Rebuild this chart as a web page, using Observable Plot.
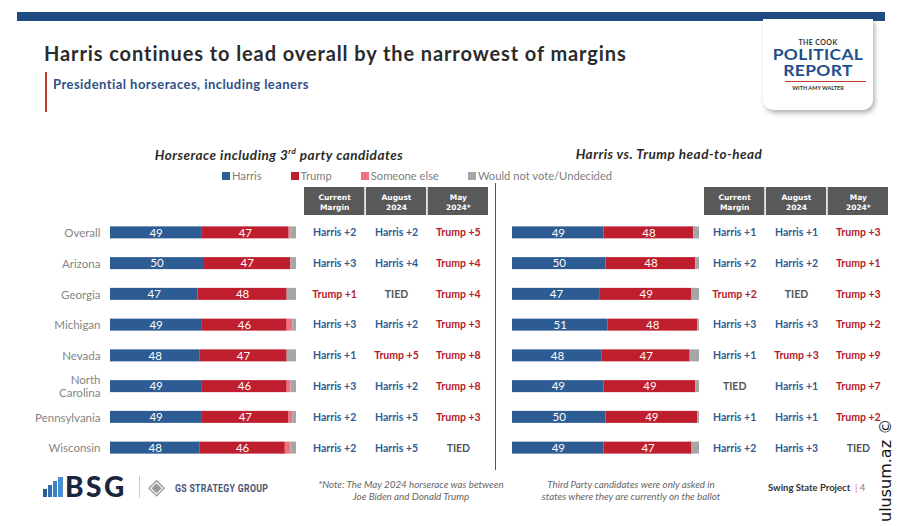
<!DOCTYPE html>
<html><head><meta charset="utf-8">
<script src="https://cdn.jsdelivr.net/npm/d3@7"></script>
<script src="https://cdn.jsdelivr.net/npm/@observablehq/plot@0.6"></script>
<style>
body{margin:0;background:#fff;font-family:Lato, sans-serif;}
#page{position:relative;width:900px;height:526px;overflow:hidden;background:#fff;}
.abs{position:absolute;}
.abs svg{display:block;overflow:visible;}
#legend .lg-swatch{margin-right:29px !important;}
#legend .lg-swatch svg{margin-right:2px !important;}
.logo div{position:absolute;left:0;width:110px;text-align:center;white-space:nowrap;}
.logo .big{font:bold 14.5px Lato;line-height:14.5px;color:#1f4e8c;letter-spacing:0.3px;transform:scaleX(1.2);transform-origin:55px 0;}
</style></head><body><div id="page">
<div class="abs" style="left:17px;top:12px;width:868px;height:9px;background:#1f4b82"></div>
<div class="abs" style="left:44px;top:41px;font:bold 20px Lato;color:#2b2b2b;white-space:nowrap;letter-spacing:0.9px" id="title">Harris continues to lead overall by the narrowest of margins</div>
<div class="abs" style="left:45px;top:72px;width:2px;height:40px;background:#c0392b"></div>
<div class="abs" style="left:53px;top:76px;font:bold 13px Lato;color:#2e4f87;white-space:nowrap;letter-spacing:0.45px">Presidential horseraces, including leaners</div>

<div class="abs logo" style="left:763px;top:19px;width:110px;height:91px;background:#fff;border-radius:0 0 10px 10px;box-shadow:2px 3px 5px rgba(0,0,0,0.3)">
  <div style="top:19.5px;font:bold 7px Lato;line-height:7px;color:#333;letter-spacing:0.4px">THE COOK</div>
  <div class="big" style="top:28.5px">POLITICAL</div>
  <div class="big" style="top:44.5px">REPORT</div>
  <div style="left:22px;width:81px;top:62px;height:1px;background:#c0392b"></div>
  <div style="top:67px;font:bold 5.5px Lato;line-height:5.5px;color:#333">WITH AMY WALTER</div>
</div>

<div class="abs" style="left:129px;top:146px;width:300px;text-align:center;font:italic bold 13.5px Lato;color:#2b2b2b;white-space:nowrap;letter-spacing:0.5px">Horserace including 3<sup style="font-size:8px">rd</sup> party candidates</div>
<div class="abs" style="left:519px;top:146px;width:300px;text-align:center;font:italic bold 13.5px Lato;color:#2b2b2b;white-space:nowrap;letter-spacing:0.5px">Harris vs. Trump head-to-head</div>
<div class="abs" id="legend" style="left:222px;top:159px;width:500px"></div>
<div class="abs" style="left:495px;top:183px;width:1px;height:287px;background:#555"></div>

<div class="abs" id="bars3" style="left:0px;top:211px"></div>
<div class="abs" id="head3" style="left:300px;top:187px"></div>
<div class="abs" id="table3" style="left:300px;top:211px"></div>
<div class="abs" id="bars2" style="left:500px;top:211px"></div>
<div class="abs" id="head2" style="left:700px;top:187px"></div>
<div class="abs" id="table2" style="left:700px;top:211px"></div>

<div class="abs" style="left:43px;top:477px;">
  <svg width="20" height="20" style="display:inline-block;vertical-align:top"><rect x="0" y="12" width="4" height="8" fill="#2a5c9a"/><rect x="5" y="8" width="4" height="12" fill="#2f6fb0"/><rect x="10" y="4" width="4" height="16" fill="#3a80c4"/><rect x="15" y="0" width="5" height="20" fill="#4a90d0"/></svg>
</div>
<div class="abs" style="left:65px;top:469px;font:900 28px Lato;color:#1a2540;letter-spacing:2.5px">BSG</div>
<div class="abs" style="left:139px;top:476px;width:1px;height:22px;background:#ccc"></div>
<div class="abs" style="left:148px;top:474px;font:22px 'DejaVu Sans';color:#999">◈</div>
<div class="abs" style="left:175px;top:481px;font:bold 11.5px Roboto;color:#4a5578;letter-spacing:0.4px;white-space:nowrap;transform-origin:0 0;transform:scaleX(0.76)">GS STRATEGY GROUP</div>
<div class="abs" style="left:291px;top:478px;width:240px;text-align:center;font:italic 9.8px Lato;color:#666;line-height:12px;white-space:nowrap">*Note: The May 2024 horserace was between<br>Joe Biden and Donald Trump</div>
<div class="abs" style="left:511px;top:478px;width:240px;text-align:center;font:italic 9.8px Lato;color:#666;line-height:12px;white-space:nowrap">Third Party candidates were only asked in<br>states where they are currently on the ballot</div>
<div class="abs" style="left:768px;top:482px;font:bold 9.5px Lato;color:#333;white-space:nowrap">Swing State Project <span style="color:#e07080;font-weight:normal">&nbsp;|&nbsp;</span><span style="color:#777;font-weight:normal">4</span></div>
<div class="abs" style="left:876px;top:522px;transform-origin:0 0;transform:rotate(-90deg);font:16px 'DejaVu Sans';color:#111;white-space:nowrap">ulusum.az ©</div>
</div>
<script>
const states = ["Overall","Arizona","Georgia","Michigan","Nevada","North Carolina","Pennsylvania","Wisconsin"];
const parties = ["Harris","Trump","Someone else","Would not vote/Undecided"];
const partyColors = ["#2d5b93","#be1e2d","#f07282","#a6a6a6"];
const columns = ["Current Margin","August 2024","May 2024*"];
const columnHeads = ["Current\nMargin","August\n2024","May\n2024*"];

// Horserace including 3rd party candidates
const h3Harris    = [49,50,47,49,48,49,49,48];
const h3Trump     = [47,47,48,46,47,46,47,46];
const h3Else      = [1,0,0,3,0,2,2,3];
const h3Undecided = [3,3,5,2,5,3,2,3];
const h3Current = ["Harris +2","Harris +3","Trump +1","Harris +3","Harris +1","Harris +3","Harris +2","Harris +2"];
const h3August  = ["Harris +2","Harris +4","TIED","Harris +2","Trump +5","Harris +2","Harris +5","Harris +5"];
const h3May     = ["Trump +5","Trump +4","Trump +4","Trump +3","Trump +8","Trump +8","Trump +3","TIED"];

// Harris vs. Trump head-to-head
const h2Harris    = [49,50,47,51,48,49,50,49];
const h2Trump     = [48,48,49,48,47,49,49,47];
const h2Undecided = [3,2,4,1,5,2,1,4];
const h2Current = ["Harris +1","Harris +2","Trump +2","Harris +3","Harris +1","TIED","Harris +1","Harris +2"];
const h2August  = ["Harris +1","Harris +2","TIED","Harris +3","Trump +3","Harris +1","Harris +1","Harris +3"];
const h2May     = ["Trump +3","Trump +1","Trump +3","Trump +2","Trump +9","Trump +7","Trump +2","TIED"];

function longBars(series) {
  const out = [];
  states.forEach((s, i) => series.forEach(([p, arr]) => out.push({state: s, party: p, value: arr[i]})));
  return out;
}
function longTable(cols) {
  const out = [];
  states.forEach((s, i) => cols.forEach((arr, j) => out.push({state: s, col: columns[j], label: arr[i]})));
  return out;
}
const labelColor = l => l.startsWith("Harris") ? "#2f5c94" : l.startsWith("Trump") ? "#b5202b" : "#555555";

const yScale = {type: "band", domain: states, paddingInner: 0.61, paddingOuter: 0.5, round: false};
const H = 258;

function barPlot(data, opts) {
  return Plot.plot({
    width: opts.width, height: H, marginLeft: opts.ml, marginRight: opts.mr, marginTop: 0, marginBottom: 0,
    x: {domain: [0, 100], axis: null},
    y: {...yScale, axis: null},
    color: {domain: parties, range: partyColors},
    style: {fontFamily: "Lato", fontSize: "11.5px", background: "transparent", overflow: "visible"},
    marks: [
      opts.labels ? Plot.axisY({tickSize: 0, tickPadding: 10, label: null, color: "#858585", lineHeight: 1.15,
        tickFormat: d => d === "North Carolina" ? "North\nCarolina" : d}) : null,
      Plot.barX(data, {x: "value", y: "state", fill: "party", order: parties}),
      Plot.text(data, Plot.stackX({x: "value", y: "state", z: "party", order: parties,
        text: d => (d.party === "Harris" || d.party === "Trump") ? String(d.value) : "", fill: "white"}))
    ]
  });
}
const xCols = {type: "band", domain: columns, paddingInner: 0.025, paddingOuter: 0, round: false, axis: null};
function tablePlot(data) {
  return Plot.plot({
    width: 200, height: H, marginLeft: 4, marginRight: 12, marginTop: 0, marginBottom: 0,
    x: xCols, y: {...yScale, axis: null}, color: {type: "identity"},
    style: {fontFamily: "Lato", background: "transparent", overflow: "visible"},
    marks: [Plot.text(data, {x: "col", y: "state", text: "label", fill: d => labelColor(d.label), fontWeight: "bold", fontSize: 10.5})]
  });
}
function headPlot() {
  return Plot.plot({
    width: 200, height: 28, marginLeft: 4, marginRight: 12, marginTop: 0, marginBottom: 0,
    x: xCols,
    style: {fontFamily: "DejaVu Sans", background: "transparent"},
    marks: [
      Plot.cell(columns, {x: d => d, fill: "#595959"}),
      Plot.text(columns, {x: d => d, text: (d, i) => columnHeads[i], fill: "white", fontWeight: "bold", fontSize: 7.5, lineHeight: 1.45, frameAnchor: "middle"})
    ]
  });
}

const bars3 = longBars([["Harris", h3Harris], ["Trump", h3Trump], ["Someone else", h3Else], ["Would not vote/Undecided", h3Undecided]]);
const bars2 = longBars([["Harris", h2Harris], ["Trump", h2Trump], ["Would not vote/Undecided", h2Undecided]]);

document.getElementById("bars3").append(barPlot(bars3, {width: 300, ml: 110, mr: 4, labels: true}));
document.getElementById("bars2").append(barPlot(bars2, {width: 200, ml: 12, mr: 1, labels: false}));
document.getElementById("table3").append(tablePlot(longTable([h3Current, h3August, h3May])));
document.getElementById("table2").append(tablePlot(longTable([h2Current, h2August, h2May])));
document.getElementById("head3").append(headPlot());
document.getElementById("head2").append(headPlot());
document.getElementById("legend").append(Plot.legend({
  color: {domain: parties, range: partyColors}, swatchSize: 8, className: "lg",
  style: {fontFamily: "Lato", fontSize: "11.2px", color: "#808080"}
}));
</script>
</body></html>
